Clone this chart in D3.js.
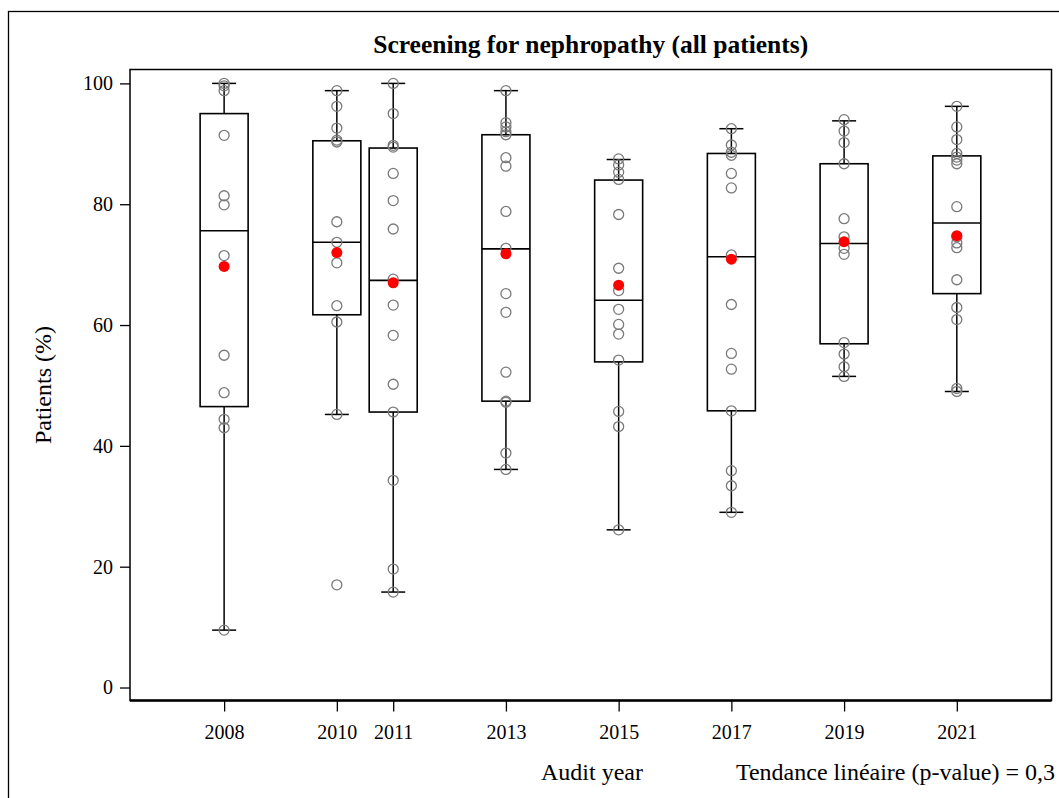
<!DOCTYPE html>
<html>
<head>
<meta charset="utf-8">
<script src="https://cdn.jsdelivr.net/npm/d3@7"></script>
<style>
  body { margin: 0; background: #fff; }
  svg { display: block; }
  text { font-family: "Liberation Serif", "Times New Roman", serif; fill: #000; }
</style>
</head>
<body>
<svg id="chart" width="1059" height="798"></svg>
<script>
// ---- data ----
const years = [2008, 2010, 2011, 2013, 2015, 2017, 2019, 2021];
const tickYears = ["2008", "2010", "2011", "2013", "2015", "2017", "2019", "2021"];
const yTicks = [0, 20, 40, 60, 80, 100];

const points2008 = [100, 99.6, 98.8, 91.4, 81.4, 79.9, 71.5, 55.0, 48.8, 44.4, 43.0, 9.5];
const points2010 = [98.8, 96.2, 92.6, 90.6, 90.3, 77.1, 73.7, 70.3, 63.2, 60.5, 45.2, 17.0];
const points2011 = [100, 95.0, 89.75, 89.45, 85.1, 80.6, 75.9, 67.6, 63.3, 58.3, 50.2, 45.6, 34.3, 19.6, 15.8];
const points2013 = [98.8, 93.5, 92.8, 92.0, 91.5, 87.7, 86.3, 78.8, 72.7, 65.2, 62.1, 52.2, 47.4, 47.2, 38.8, 36.1];
const points2015 = [87.5, 86.5, 85.3, 84.1, 78.3, 69.4, 65.7, 62.6, 60.1, 58.5, 54.2, 45.7, 43.2, 26.1];
const points2017 = [92.5, 89.8, 88.6, 88.1, 85.1, 82.7, 71.6, 63.4, 55.3, 52.7, 45.8, 35.9, 33.4, 29.0];
const points2019 = [94.0, 92.1, 90.2, 86.7, 77.6, 74.6, 72.7, 71.7, 57.1, 55.2, 53.1, 51.5];
const points2021 = [96.2, 92.8, 90.7, 88.4, 87.8, 87.3, 86.7, 79.6, 74.6, 73.6, 72.8, 67.5, 62.9, 60.9, 49.5, 49.0];
const pointsByYear = [points2008, points2010, points2011, points2013, points2015, points2017, points2019, points2021];

const whiskerHigh = [100, 98.8, 100, 98.8, 87.4, 92.5, 93.8, 96.2];
const q3Values    = [95.0, 90.5, 89.3, 91.5, 84.0, 88.4, 86.7, 88.0];
const medians     = [75.6, 73.7, 67.4, 72.6, 64.1, 71.3, 73.5, 76.9];
const q1Values    = [46.5, 61.7, 45.6, 47.4, 53.9, 45.8, 56.9, 65.2];
const whiskerLow  = [9.5, 45.2, 15.8, 36.1, 26.1, 29.0, 51.5, 49.0];
const means       = [69.7, 72.0, 67.0, 71.8, 66.6, 70.9, 73.8, 74.8];

const titleText = "Screening for nephropathy (all patients)";
const yLabel = "Patients (%)";
const xLabel = "Audit year";
const noteText = "Tendance linéaire (p-value) = 0,3";

(function () {
const svg = d3.select("#chart");
const pLeft = 130, pRight = 1051.5, pTop = 69.5, pBottom = 700.5;
const serif = "Liberation Serif, Times New Roman, serif";

const x = d3.scaleLinear().domain([2006.33, 2022.68]).range([pLeft, pRight]);
const y = d3.scaleLinear().domain([-2.15, 102.3]).range([pBottom, pTop]);

const boxHalf = 24, capHalf = 12;

// outer frame
svg.append("rect")
  .attr("x", 8.5).attr("y", 11.5)
  .attr("width", 1100).attr("height", 900)
  .attr("fill", "none").attr("stroke", "#000").attr("stroke-width", 1.3);

// title
svg.append("text")
  .attr("x", (pLeft + pRight) / 2).attr("y", 53)
  .attr("text-anchor", "middle")
  .attr("font-size", 25.5).attr("font-weight", "bold")
  .text(titleText);

// plot frame
svg.append("rect")
  .attr("x", pLeft).attr("y", pTop)
  .attr("width", pRight - pLeft).attr("height", pBottom - pTop)
  .attr("fill", "none").attr("stroke", "#000").attr("stroke-width", 1.5);
svg.append("line")
  .attr("x1", pLeft).attr("x2", pRight).attr("y1", pBottom).attr("y2", pBottom)
  .attr("stroke", "#000").attr("stroke-width", 2.5);

// y axis
const yAxis = d3.axisLeft(y).tickValues(yTicks).tickSize(10).tickPadding(7).tickFormat(d3.format("d"));
const gy = svg.append("g").attr("transform", `translate(${pLeft},0)`).call(yAxis);
gy.select(".domain").remove();
gy.selectAll(".tick line").attr("stroke", "#000").attr("stroke-width", 1.3);
gy.selectAll(".tick text")
  .attr("font-family", serif)
  .attr("font-size", 20).attr("fill", "#000");

// x axis
const xAxis = d3.axisBottom(x).tickValues(years).tickSize(11).tickPadding(13)
  .tickFormat((d, i) => tickYears[i]);
const gx = svg.append("g").attr("transform", `translate(0,${pBottom})`).call(xAxis);
gx.select(".domain").remove();
gx.selectAll(".tick line").attr("stroke", "#000").attr("stroke-width", 1.3);
gx.selectAll(".tick text")
  .attr("font-family", serif)
  .attr("font-size", 20).attr("fill", "#000");

// axis labels
svg.append("text")
  .attr("transform", `translate(51,${(pTop + pBottom) / 2}) rotate(-90)`)
  .attr("text-anchor", "middle").attr("font-size", 24)
  .text(yLabel);
svg.append("text")
  .attr("x", 592).attr("y", 780)
  .attr("text-anchor", "middle").attr("font-size", 24)
  .text(xLabel);
svg.append("text")
  .attr("x", 1055).attr("y", 780)
  .attr("text-anchor", "end").attr("font-size", 24)
  .text(noteText);

// boxes
const boxData = years.map((yr, i) => ({
  year: yr, hi: whiskerHigh[i], q3: q3Values[i], med: medians[i],
  q1: q1Values[i], lo: whiskerLow[i], mean: means[i], pts: pointsByYear[i]
}));

const g = svg.append("g");
const groups = g.selectAll("g.box").data(boxData).enter().append("g").attr("class", "box");

groups.each(function(d) {
  const sel = d3.select(this);
  const cx = x(d.year);
  sel.append("line").attr("x1", cx).attr("x2", cx).attr("y1", y(d.q3)).attr("y2", y(d.hi))
    .attr("stroke", "#000").attr("stroke-width", 1.5);
  sel.append("line").attr("x1", cx).attr("x2", cx).attr("y1", y(d.q1)).attr("y2", y(d.lo))
    .attr("stroke", "#000").attr("stroke-width", 1.5);
  sel.append("line").attr("x1", cx - capHalf).attr("x2", cx + capHalf).attr("y1", y(d.hi)).attr("y2", y(d.hi))
    .attr("stroke", "#000").attr("stroke-width", 1.5);
  sel.append("line").attr("x1", cx - capHalf).attr("x2", cx + capHalf).attr("y1", y(d.lo)).attr("y2", y(d.lo))
    .attr("stroke", "#000").attr("stroke-width", 1.5);
  sel.append("rect").attr("x", cx - boxHalf).attr("y", y(d.q3))
    .attr("width", boxHalf * 2).attr("height", y(d.q1) - y(d.q3))
    .attr("fill", "none").attr("stroke", "#000").attr("stroke-width", 1.6);
  sel.append("line").attr("x1", cx - boxHalf).attr("x2", cx + boxHalf).attr("y1", y(d.med)).attr("y2", y(d.med))
    .attr("stroke", "#000").attr("stroke-width", 1.6);
  sel.selectAll("circle.pt").data(d.pts).enter().append("circle")
    .attr("class", "pt")
    .attr("cx", cx).attr("cy", v => y(v)).attr("r", 5)
    .attr("fill", "none").attr("stroke", "#7a7a7a").attr("stroke-width", 1.3);
  sel.append("circle").attr("cx", cx).attr("cy", y(d.mean)).attr("r", 5.5)
    .attr("fill", "#ff0000").attr("stroke", "none");
});
})();
</script>
</body>
</html>
